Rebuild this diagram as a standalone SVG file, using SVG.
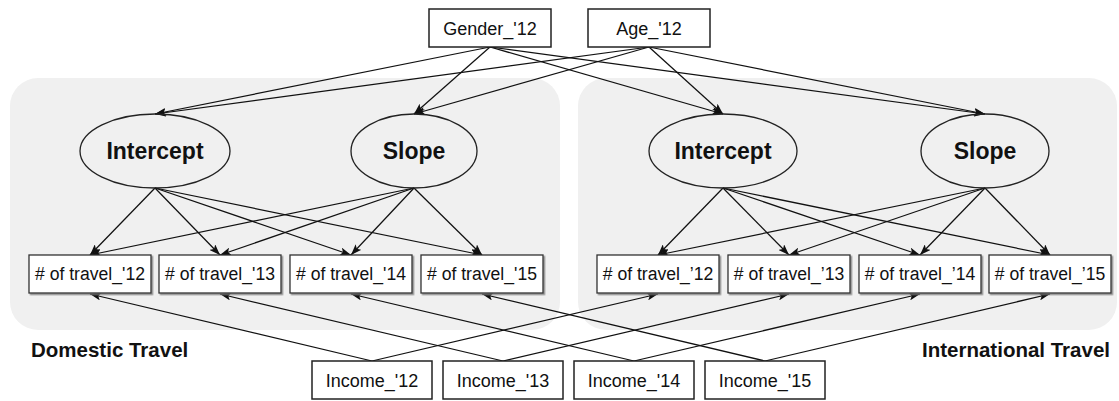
<svg xmlns="http://www.w3.org/2000/svg" width="1119" height="401" viewBox="0 0 1119 401">
  <defs>
    <marker id="arrow" markerUnits="userSpaceOnUse" markerWidth="11" markerHeight="8" refX="11" refY="4" orient="auto">
      <path d="M0,0 L11,4 L0,8 L2.5,4 z" fill="#111"/>
    </marker>
    <filter id="shadow" x="-5%" y="-10%" width="110%" height="130%">
      <feDropShadow dx="1.5" dy="1.5" stdDeviation="0.6" flood-color="#777" flood-opacity="0.8"/>
    </filter>
  </defs>
  <style>
    .panel { fill: #f0f0f0; }
    .box { fill: #fff; stroke: #222; stroke-width: 1.5; }
    .tbox { fill: #fff; stroke: #333; stroke-width: 1.3; filter: url(#shadow); }
    .latent { fill: none; stroke: #222; stroke-width: 1.3; }
    .lbl { font-family: "Liberation Sans", Arial, sans-serif; fill: #111; text-anchor: middle; }
    .obs { font-size: 18px; }
    .trv { font-size: 17.6px; }
    .lat { font-size: 23px; font-weight: bold; }
    .grp { font-family: "Liberation Sans", Arial, sans-serif; font-size: 20.5px; font-weight: bold; fill: #111; }
    .edges line { stroke: #111; stroke-width: 1.25; marker-end: url(#arrow); }
  </style>

  <rect width="1119" height="401" fill="#fff"/>

  <!-- group backgrounds -->
  <g id="domestic-panel">
    <rect class="panel" x="10" y="78" width="550" height="252" rx="28" ry="28"/>
    <text class="grp" x="31" y="357">Domestic Travel</text>
  </g>
  <g id="international-panel">
    <rect class="panel" x="578" y="78" width="539" height="252" rx="28" ry="28"/>
    <text class="grp" x="1110" y="357" text-anchor="end">International Travel</text>
  </g>

  <!-- connectors -->
  <g class="edges" id="connectors">
    <!-- covariates to growth factors -->
    <line x1="490" y1="47" x2="155" y2="114"/>
    <line x1="490" y1="47" x2="414" y2="114"/>
    <line x1="490" y1="47" x2="723" y2="114"/>
    <line x1="490" y1="47" x2="985" y2="114"/>
    <line x1="649" y1="47" x2="155" y2="114"/>
    <line x1="649" y1="47" x2="414" y2="114"/>
    <line x1="649" y1="47" x2="723" y2="114"/>
    <line x1="649" y1="47" x2="985" y2="114"/>
    <!-- domestic growth factors to counts -->
    <line x1="155" y1="188" x2="90" y2="255"/>
    <line x1="155" y1="188" x2="220" y2="255"/>
    <line x1="155" y1="188" x2="351" y2="255"/>
    <line x1="155" y1="188" x2="482" y2="255"/>
    <line x1="414" y1="188" x2="90" y2="255"/>
    <line x1="414" y1="188" x2="220" y2="255"/>
    <line x1="414" y1="188" x2="351" y2="255"/>
    <line x1="414" y1="188" x2="482" y2="255"/>
    <!-- international growth factors to counts -->
    <line x1="723" y1="188" x2="658" y2="255"/>
    <line x1="723" y1="188" x2="789" y2="255"/>
    <line x1="723" y1="188" x2="920" y2="255"/>
    <line x1="723" y1="188" x2="1050" y2="255"/>
    <line x1="985" y1="188" x2="658" y2="255"/>
    <line x1="985" y1="188" x2="789" y2="255"/>
    <line x1="985" y1="188" x2="920" y2="255"/>
    <line x1="985" y1="188" x2="1050" y2="255"/>
    <!-- time-varying income to counts -->
    <line x1="372" y1="361" x2="90" y2="294"/>
    <line x1="372" y1="361" x2="658" y2="294"/>
    <line x1="503" y1="361" x2="220" y2="294"/>
    <line x1="503" y1="361" x2="789" y2="294"/>
    <line x1="634" y1="361" x2="351" y2="294"/>
    <line x1="634" y1="361" x2="920" y2="294"/>
    <line x1="765" y1="361" x2="482" y2="294"/>
    <line x1="765" y1="361" x2="1050" y2="294"/>
  </g>

  <!-- covariates -->
  <g id="gender12">
    <rect class="box" x="429" y="9" width="122" height="38"/>
    <text class="lbl obs" x="490" y="34.5">Gender_'12</text>
  </g>
  <g id="age12">
    <rect class="box" x="588" y="9" width="122" height="38"/>
    <text class="lbl obs" x="649" y="34.5">Age_'12</text>
  </g>

  <!-- domestic growth factors -->
  <g id="dom-intercept">
    <ellipse class="latent" cx="155" cy="151" rx="75" ry="37"/>
    <text class="lbl lat" x="155" y="159">Intercept</text>
  </g>
  <g id="dom-slope">
    <ellipse class="latent" cx="414" cy="151" rx="63" ry="37"/>
    <text class="lbl lat" x="414" y="159">Slope</text>
  </g>

  <!-- international growth factors -->
  <g id="int-intercept">
    <ellipse class="latent" cx="723" cy="151" rx="74" ry="37"/>
    <text class="lbl lat" x="723" y="159">Intercept</text>
  </g>
  <g id="int-slope">
    <ellipse class="latent" cx="985" cy="151" rx="64" ry="37"/>
    <text class="lbl lat" x="985" y="159">Slope</text>
  </g>

  <!-- domestic counts -->
  <g id="dom-travel12">
    <rect class="tbox" x="29" y="255" width="122" height="38"/>
    <text class="lbl trv" x="90" y="280"># of travel_'12</text>
  </g>
  <g id="dom-travel13">
    <rect class="tbox" x="159" y="255" width="122" height="38"/>
    <text class="lbl trv" x="220" y="280"># of travel_'13</text>
  </g>
  <g id="dom-travel14">
    <rect class="tbox" x="290" y="255" width="122" height="38"/>
    <text class="lbl trv" x="351" y="280"># of travel_'14</text>
  </g>
  <g id="dom-travel15">
    <rect class="tbox" x="421" y="255" width="122" height="38"/>
    <text class="lbl trv" x="482" y="280"># of travel_'15</text>
  </g>

  <!-- international counts -->
  <g id="int-travel12">
    <rect class="tbox" x="597" y="255" width="122" height="38"/>
    <text class="lbl trv" x="658" y="280"># of travel_’12</text>
  </g>
  <g id="int-travel13">
    <rect class="tbox" x="728" y="255" width="122" height="38"/>
    <text class="lbl trv" x="789" y="280"># of travel_’13</text>
  </g>
  <g id="int-travel14">
    <rect class="tbox" x="859" y="255" width="122" height="38"/>
    <text class="lbl trv" x="920" y="280"># of travel_’14</text>
  </g>
  <g id="int-travel15">
    <rect class="tbox" x="989" y="255" width="122" height="38"/>
    <text class="lbl trv" x="1050" y="280"># of travel_’15</text>
  </g>

  <!-- time-varying income -->
  <g id="income12">
    <rect class="box" x="312" y="361" width="120" height="38"/>
    <text class="lbl obs" x="372" y="386.5">Income_'12</text>
  </g>
  <g id="income13">
    <rect class="box" x="443" y="361" width="120" height="38"/>
    <text class="lbl obs" x="503" y="386.5">Income_'13</text>
  </g>
  <g id="income14">
    <rect class="box" x="574" y="361" width="120" height="38"/>
    <text class="lbl obs" x="634" y="386.5">Income_'14</text>
  </g>
  <g id="income15">
    <rect class="box" x="705" y="361" width="120" height="38"/>
    <text class="lbl obs" x="765" y="386.5">Income_'15</text>
  </g>
</svg>
